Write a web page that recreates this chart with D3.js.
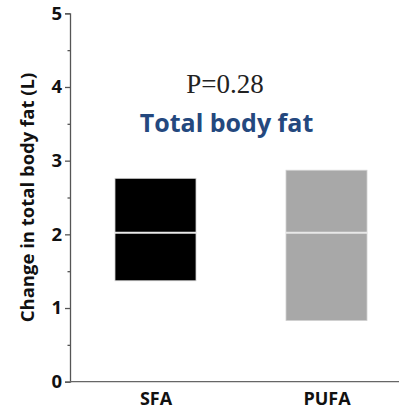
<!DOCTYPE html>
<html>
<head>
<meta charset="utf-8">
<script src="https://cdn.jsdelivr.net/npm/d3@7"></script>
<style>
  html, body { margin: 0; padding: 0; background: #fff; }
  svg { display: block; }
</style>
</head>
<body>
<svg id="chart" width="399" height="409"></svg>
<script>
// Groups and their floating-bar extents (litres)
const groups = ["SFA", "PUFA"];
const lowValues = [1.37, 0.83];
const highValues = [2.76, 2.87];
const medianValues = [2.02, 2.02];
const barColors = ["#000000", "#a8a8a8"];
const yTicks = [0, 1, 2, 3, 4, 5];
const yMinorTicks = [0.5, 1.5, 2.5, 3.5, 4.5];

const svg = d3.select("#chart");
const plotLeft = 70, plotRight = 412, plotTop = 13.3, plotBottom = 381.7;

const x = d3.scalePoint().domain(groups).range([plotLeft, plotRight]).padding(0.5);
const y = d3.scaleLinear().domain([0, 5]).range([plotBottom, plotTop]);
const barWidth = 81;

// Floating bars
const bars = svg.append("g");
groups.forEach((g, i) => {
  const cx = x(g);
  bars.append("rect")
    .attr("x", cx - barWidth / 2)
    .attr("y", y(highValues[i]))
    .attr("width", barWidth)
    .attr("height", y(lowValues[i]) - y(highValues[i]))
    .attr("fill", barColors[i])
    .attr("stroke", "#d0d0d0")
    .attr("stroke-width", 0.8);
  bars.append("line")
    .attr("x1", cx - barWidth / 2)
    .attr("x2", cx + barWidth / 2)
    .attr("y1", y(medianValues[i]))
    .attr("y2", y(medianValues[i]))
    .attr("stroke", "#e8e8e8")
    .attr("stroke-width", 2);
});

// Y axis with major and minor ticks
const yAxis = svg.append("g").attr("transform", `translate(${plotLeft},0)`)
  .call(d3.axisLeft(y).tickValues(yTicks).tickSize(5).tickPadding(3).tickFormat(d3.format("d")));
yAxis.select(".domain").attr("stroke", "#555").attr("stroke-width", 1.3);
yAxis.selectAll(".tick line").attr("stroke", "#555").attr("stroke-width", 1.3);
yAxis.selectAll(".tick text")
  .attr("font-family", "'Open Sans', sans-serif")
  .attr("font-weight", "bold")
  .attr("font-size", 18.5)
  .attr("fill", "#111");

const yMinor = svg.append("g").attr("transform", `translate(${plotLeft},0)`)
  .call(d3.axisLeft(y).tickValues(yMinorTicks).tickSize(2.5).tickFormat(""));
yMinor.select(".domain").remove();
yMinor.selectAll(".tick line").attr("stroke", "#555").attr("stroke-width", 1.3);

// X axis baseline and group labels
const xAxis = svg.append("g").attr("transform", `translate(0,${plotBottom})`)
  .call(d3.axisBottom(x).tickSize(0).tickPadding(0));
xAxis.select(".domain").attr("d", `M${plotLeft},0H399`).attr("stroke", "#666").attr("stroke-width", 1.3);
xAxis.selectAll(".tick text")
  .attr("y", 23.5)
  .attr("dy", null)
  .attr("font-family", "'Open Sans', sans-serif")
  .attr("font-weight", "bold")
  .attr("font-size", 18)
  .attr("fill", "#111");

// Y axis title
svg.append("text")
  .attr("transform", `translate(34,197.5) rotate(-90)`)
  .attr("text-anchor", "middle")
  .attr("font-family", "'Open Sans', sans-serif")
  .attr("font-weight", "bold")
  .attr("font-size", 18.5)
  .attr("fill", "#111")
  .text("Change in total body fat (L)");

// Annotations
svg.append("text")
  .attr("x", 225).attr("y", 93)
  .attr("text-anchor", "middle")
  .attr("font-family", "'Liberation Serif', 'Times New Roman', serif")
  .attr("font-size", 27)
  .attr("fill", "#222")
  .text("P=0.28");

svg.append("text")
  .attr("x", 226.5).attr("y", 131.7)
  .attr("text-anchor", "middle")
  .attr("font-family", "'Open Sans', sans-serif")
  .attr("font-weight", "bold")
  .attr("font-size", 25)
  .attr("fill", "#24487e")
  .text("Total body fat");
</script>
</body>
</html>
